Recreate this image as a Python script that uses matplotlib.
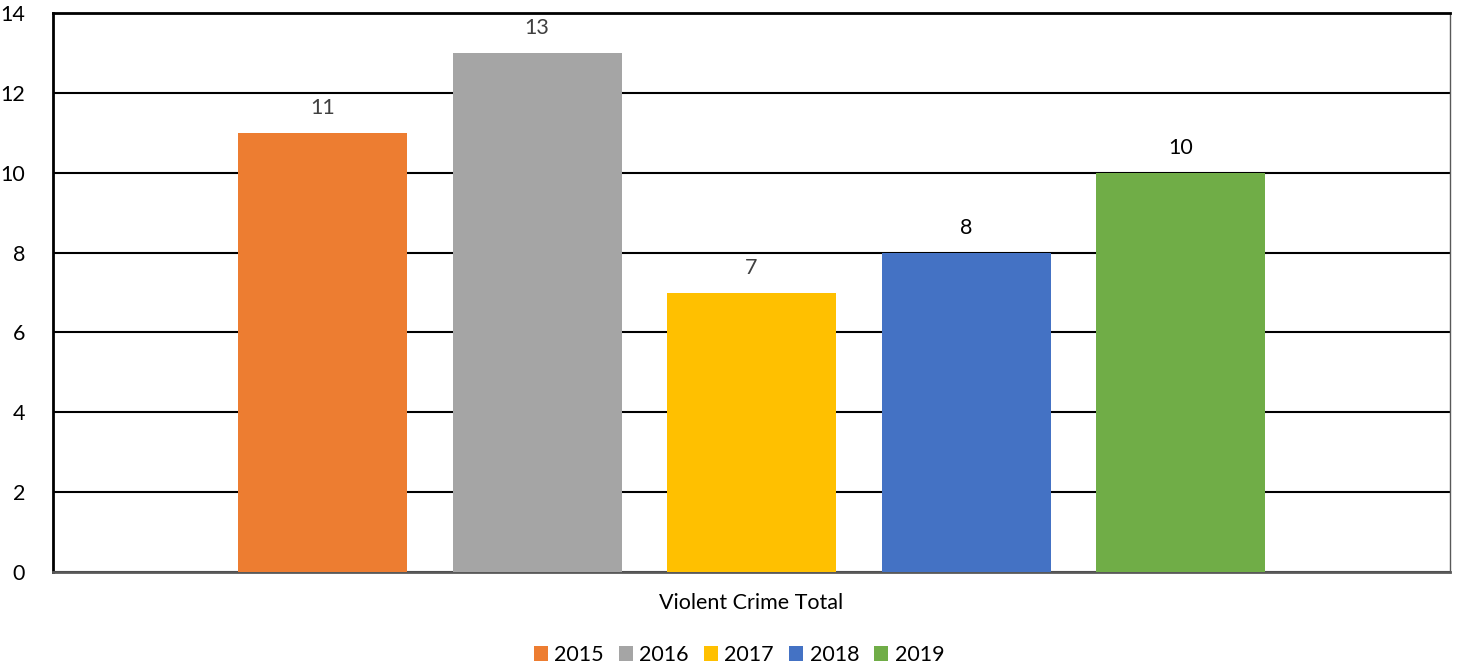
import matplotlib
matplotlib.use("Agg")
import matplotlib.pyplot as plt
from matplotlib.patches import Patch

plt.rcParams['font.family'] = ['Lato', 'DejaVu Sans']

years = ["2015", "2016", "2017", "2018", "2019"]
values = [11, 13, 7, 8, 10]
colors = ["#ED7D31", "#A5A5A5", "#FFC000", "#4472C4", "#70AD47"]
label_colors = ["#404040", "#404040", "#404040", "#000000", "#000000"]
category = "Violent Crime Total"
yticks = [0, 2, 4, 6, 8, 10, 12, 14]

FS = 15.5
fig = plt.figure(figsize=(14.57, 6.71), dpi=100)
ax = fig.add_axes([53/1457, 1-572/671, (1450-53)/1457, (572-13)/671])

pitch = 214.5/1397
width = 169/1397
n = len(values)
for i, (y, v, c, lc) in enumerate(zip(years, values, colors, label_colors)):
    x = (i - (n-1)/2) * pitch
    ax.bar(x, v, width=width, color=c, zorder=3)
    ax.annotate(str(v), (x, v), xytext=(0, 18), textcoords="offset points",
                ha="center", va="center", fontsize=FS, color=lc, zorder=4)

ax.set_xlim(-0.5, 0.5)
ax.set_ylim(0, 14)
ax.set_yticks(yticks)
ax.set_yticklabels([str(t) for t in yticks], fontsize=FS)
ax.tick_params(axis='y', length=0, pad=20)
ax.set_xticks([])
ax.set_xlabel(category, fontsize=FS, labelpad=15)
ax.yaxis.grid(True, color="black", linewidth=1.5, zorder=0)
ax.set_axisbelow(True)
for s in ["left", "top"]:
    ax.spines[s].set_color("black")
    ax.spines[s].set_linewidth(2)
ax.spines["bottom"].set_color("#595959")
ax.spines["bottom"].set_linewidth(2)
ax.spines["right"].set_color("#595959")
ax.spines["right"].set_linewidth(1)

handles = [Patch(facecolor=c, label=y) for y, c in zip(years, colors)]
fig.legend(handles=handles, loc="center", bbox_to_anchor=(739/1457, 1-655/671),
           ncol=5, frameon=False, fontsize=FS, handlelength=0.65, handleheight=0.65,
           handletextpad=0.3, columnspacing=0.7)

fig.savefig("out.png", dpi=100)
